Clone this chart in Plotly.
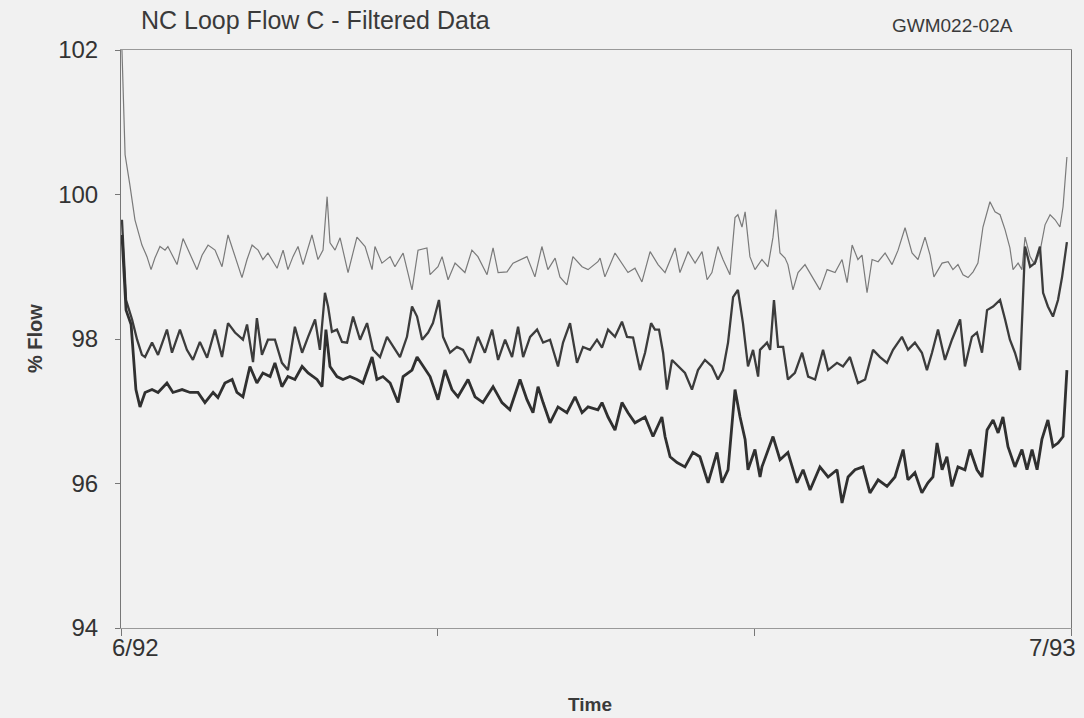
import plotly.graph_objects as go

# ---- data (days since 6/92, % flow) ----
top_days = [0.4, 1.7, 3.7, 5.8, 8.7, 10.8, 12.5, 14.1, 16.2, 18.3, 19.5, 23.3, 25.8, 27.9, 31.6, 33.7, 36.2, 39.1, 42, 44.5,
            47.4, 50.3, 52.4, 54.5, 57, 59, 61.1, 64.9, 67.4, 69.4, 71.5, 73.6, 75.7, 79.4, 81.9, 84, 85.7, 86.9, 89, 91.1,
            94.4, 98.1, 101.5, 104.4, 105.6, 108.5, 111.9, 113.9, 117.3, 121, 123.5, 127.2, 128.5, 131.8, 133.5, 136, 138.9, 141, 143, 145.9,
            148.4, 152.2, 154.7, 156.8, 160.5, 163, 165.9, 168.8, 172.1, 175, 177.5, 180.5, 182.5, 185.4, 187.9, 191.7, 194.2, 198.3, 199.2, 201.2,
            205.4, 208.3, 210.8, 213.7, 216.6, 220, 223.3, 226.2, 230.4, 232.4, 235.8, 238.7, 241.6, 243.7, 245.7, 248.2, 250.3, 253.2, 255.3, 256.5,
            258.2, 259.5, 261.5, 263.6, 266.5, 269, 271.1, 272.3, 274, 276.1, 277.3, 279.4, 281.5, 284.4, 287.3, 290.6, 293.6, 296.9, 299.8, 301.9,
            304, 306.4, 308.1, 310.2, 312.3, 314.8, 317.7, 320.6, 323.1, 326, 328.9, 331.4, 334.3, 336.4, 338, 341.4, 343.9, 345.9, 348, 350.1,
            352.2, 354.3, 356.3, 358.4, 361.3, 363.4, 365.5, 367.6, 369.6, 370.9, 373, 374.6, 375.9, 378, 380, 382.1, 384.2, 386.3, 388.4, 390.4,
            391.7, 393.3]
top_flow = [102.0, 100.55, 100.13, 99.65, 99.3, 99.14, 98.96, 99.12, 99.28, 99.23, 99.28, 99.03, 99.39, 99.23, 98.96, 99.16, 99.3, 99.23, 99.0, 99.44,
            99.14, 98.85, 99.1, 99.3, 99.23, 99.1, 99.19, 98.98, 99.23, 98.96, 99.14, 99.28, 99.03, 99.44, 99.1, 99.23, 99.97, 99.33, 99.23, 99.4,
            98.92, 99.41, 99.28, 98.96, 99.28, 99.05, 99.14, 99.0, 99.19, 98.68, 99.23, 99.26, 98.89, 99.0, 99.14, 98.82, 99.05, 98.98, 98.92, 99.23,
            99.14, 98.89, 99.26, 98.92, 98.93, 99.05, 99.1, 99.14, 98.86, 99.28, 98.96, 99.12, 98.86, 98.75, 99.14, 99.0, 98.96, 99.07, 99.12, 98.86,
            99.19, 99.05, 98.92, 98.98, 98.79, 99.21, 99.03, 98.92, 99.26, 98.92, 99.21, 99.05, 99.21, 98.82, 98.92, 99.28, 99.1, 98.89, 99.68, 99.72,
            99.55, 99.76, 99.14, 98.96, 99.1, 99.0, 99.41, 99.79, 99.19, 99.12, 99.03, 98.68, 98.92, 99.03, 98.86, 98.68, 98.96, 98.92, 99.1, 98.78,
            99.3, 99.1, 99.16, 98.64, 99.1, 99.07, 99.19, 99.03, 99.23, 99.54, 99.19, 99.1, 99.41, 99.16, 98.86, 99.05, 99.07, 98.96, 99.03, 98.89,
            98.85, 98.93, 99.05, 99.55, 99.9, 99.76, 99.72, 99.51, 99.26, 98.96, 99.05, 98.96, 99.41, 99.14, 99.03, 99.21, 99.58, 99.72, 99.65, 99.55,
            99.83, 100.52]

mid_days = [0.4, 2.1, 4.6, 6.7, 8.7, 10, 12.9, 15.4, 19.1, 21.2, 24.5, 27.4, 29.9, 32.8, 35.8, 39.1, 42, 44.5, 47.4, 50.7,
            52.4, 53.6, 54.9, 56.5, 58.6, 61.1, 64, 66.9, 69.4, 72.3, 75.3, 77.8, 80.7, 82.7, 84.8, 86.1, 87.7, 89.8, 91.9, 94,
            96.5, 99.4, 102.3, 104.8, 107.7, 110.6, 113.9, 116, 118.9, 121, 123.1, 125.2, 127.7, 129.7, 132.2, 133.9, 136.8, 139.7, 142.2, 145.1,
            148.4, 151.3, 154.3, 156.8, 159.7, 162.6, 165.1, 167.2, 170.1, 173, 175.5, 178.4, 181.7, 183.8, 186.7, 189.6, 192.1, 195, 197.9, 200,
            202.5, 205.4, 208.3, 210.4, 212.9, 215.8, 217.9, 220.4, 222, 223.7, 225.4, 227, 229.1, 231.6, 234.5, 237.4, 239.9, 242.8, 245.7, 248.2,
            250.3, 252.4, 254.5, 256.5, 258.6, 260.7, 262.8, 264.9, 265.7, 268.6, 269.9, 271.5, 273.2, 275.3, 277.3, 280.2, 283.2, 285.7, 288.6, 291.9,
            294, 297.7, 300.2, 303.1, 306.4, 309.4, 312.7, 315.6, 318.5, 321, 324.7, 327.2, 330.1, 333, 335.1, 337.2, 339.7, 342.6, 345.5, 348.9,
            350.9, 353.8, 355.9, 358, 360.1, 362.6, 365.5, 367.6, 369.6, 371.7, 373.8, 375, 375.9, 378, 380, 382.1, 383.4, 385.4, 387.5, 389.6,
            391.3, 393.3]
mid_flow = [99.65, 98.54, 98.27, 97.99, 97.78, 97.75, 97.95, 97.78, 98.13, 97.81, 98.13, 97.85, 97.71, 97.96, 97.74, 98.13, 97.75, 98.22, 98.09, 97.99,
            98.2, 97.92, 97.68, 98.29, 97.78, 97.99, 97.99, 97.67, 97.57, 98.17, 97.81, 98.03, 98.27, 97.85, 98.64, 98.45, 98.1, 98.13, 97.96, 97.95,
            98.31, 97.99, 98.22, 97.85, 97.75, 98.03, 97.85, 97.75, 98.03, 98.45, 98.31, 97.99, 98.09, 98.22, 98.54, 98.03, 97.81, 97.89, 97.85, 97.67,
            98.03, 97.81, 98.13, 97.71, 97.99, 97.75, 98.17, 97.75, 98.03, 98.13, 97.95, 97.99, 97.62, 97.95, 98.22, 97.67, 97.89, 97.85, 97.99, 97.88,
            98.13, 98.03, 98.24, 98.03, 98.02, 97.57, 97.81, 98.22, 98.13, 98.13, 97.81, 97.3, 97.71, 97.62, 97.53, 97.3, 97.57, 97.71, 97.62, 97.44,
            97.57, 97.95, 98.58, 98.68, 98.22, 97.62, 97.85, 97.48, 97.85, 97.95, 97.85, 98.54, 97.89, 97.89, 97.44, 97.53, 97.81, 97.48, 97.44, 97.85,
            97.57, 97.67, 97.62, 97.75, 97.39, 97.44, 97.85, 97.75, 97.67, 97.85, 98.03, 97.85, 97.95, 97.81, 97.57, 97.81, 98.13, 97.71, 97.99, 98.27,
            97.62, 98.03, 98.09, 97.81, 98.4, 98.45, 98.54, 98.27, 97.99, 97.81, 97.57, 98.54, 99.28, 99.0, 99.05, 99.28, 98.64, 98.45, 98.31, 98.54,
            98.86, 99.34]

low_days = [0.4, 2.1, 4.2, 6.2, 7.9, 10, 12.9, 15.4, 19.1, 21.6, 25.4, 28.7, 32, 34.9, 38.3, 40.3, 43.2, 46.2, 48.2, 50.7,
            53.6, 56.5, 59, 62, 64, 66.9, 69.4, 72.3, 75.3, 77.8, 81.5, 83.6, 85.2, 86.9, 89.8, 92.3, 95.2, 98.1, 100.6, 104.4,
            106.4, 108.9, 111.9, 115.2, 117.3, 121, 123.1, 125.6, 128.5, 131.8, 134.7, 137.6, 140.1, 144.3, 147.2, 150.5, 154.7, 158.4, 161.7, 165.9,
            168.8, 171.3, 173.4, 175.5, 178.4, 181.7, 185.4, 188.8, 191.7, 194.2, 198.3, 200, 202.5, 205.4, 208.3, 210.8, 213.7, 217.9, 221.2, 224.9,
            226.2, 228.3, 231.2, 234.5, 237.8, 240.7, 244.1, 247.8, 249.9, 252.4, 255.3, 257.4, 259.5, 260.7, 263.6, 265.7, 266.5, 271.1, 274, 277.3,
            281.1, 283.6, 286.5, 290.6, 294, 297.7, 299.8, 302.3, 305.2, 308.5, 311.4, 314.8, 318.5, 321.8, 325.2, 327.2, 330.1, 333, 335.5, 337.6,
            339.3, 341.4, 343.4, 345.5, 348, 350.9, 353, 355.9, 358, 360.1, 362.6, 364.7, 366.7, 368.8, 371.7, 374.6, 376.7, 378.8, 380.9, 382.9,
            385.4, 387.5, 389.6, 391.7, 393.3]
low_flow = [99.44, 98.4, 98.2, 97.3, 97.06, 97.26, 97.3, 97.26, 97.39, 97.26, 97.3, 97.26, 97.26, 97.12, 97.26, 97.19, 97.39, 97.44, 97.26, 97.2,
            97.62, 97.39, 97.53, 97.48, 97.67, 97.34, 97.48, 97.44, 97.62, 97.53, 97.44, 97.34, 98.13, 97.62, 97.48, 97.44, 97.48, 97.44, 97.39, 97.75,
            97.44, 97.48, 97.39, 97.12, 97.48, 97.57, 97.75, 97.62, 97.48, 97.16, 97.57, 97.3, 97.2, 97.44, 97.2, 97.12, 97.34, 97.12, 97.02, 97.44,
            97.16, 96.98, 97.34, 97.12, 96.84, 97.06, 96.98, 97.2, 96.98, 97.06, 97.02, 97.12, 96.92, 96.74, 97.12, 96.98, 96.84, 96.92, 96.65, 96.92,
            96.65, 96.37, 96.29, 96.23, 96.43, 96.37, 96.01, 96.43, 96.01, 96.19, 97.3, 96.92, 96.61, 96.19, 96.47, 96.09, 96.23, 96.65, 96.33, 96.43,
            96.01, 96.19, 95.91, 96.23, 96.09, 96.19, 95.73, 96.09, 96.19, 96.23, 95.87, 96.05, 95.96, 96.09, 96.47, 96.05, 96.15, 95.87, 96.01, 96.09,
            96.56, 96.19, 96.37, 95.96, 96.23, 96.19, 96.47, 96.19, 96.09, 96.74, 96.88, 96.7, 96.92, 96.51, 96.23, 96.47, 96.19, 96.47, 96.19, 96.61,
            96.88, 96.51, 96.56, 96.65, 97.57]

y_ticks = [94, 96, 98, 100, 102]
x_ticks = [0, 131.7, 263.3, 395]
x_labels = ["6/92", "7/93"]

FONT = "Liberation Sans, Arial, sans-serif"
BG = "#f1f1f1"

fig = go.Figure()
fig.add_trace(go.Scatter(x=top_days, y=top_flow, mode="lines",
                         line=dict(color="#7a7a7a", width=1.2), showlegend=False))
fig.add_trace(go.Scatter(x=mid_days, y=mid_flow, mode="lines",
                         line=dict(color="#3c3c3c", width=2.3), showlegend=False))
fig.add_trace(go.Scatter(x=low_days, y=low_flow, mode="lines",
                         line=dict(color="#303030", width=2.8), showlegend=False))

fig.update_layout(
    width=1084, height=718,
    margin=dict(l=121, r=13, t=50, b=90),
    paper_bgcolor=BG, plot_bgcolor=BG,
    font=dict(family=FONT, color="#333333"),
    xaxis=dict(range=[0, 395], tickvals=x_ticks, ticktext=["", "", "", ""],
               ticks="outside", ticklen=7, tickcolor="#777777",
               showline=True, linecolor="#999999", linewidth=1, mirror=True,
               showgrid=False, zeroline=False),
    yaxis=dict(range=[94, 102], tickvals=y_ticks, ticktext=[str(v) for v in y_ticks],
               ticks="outside", ticklen=5, tickcolor="#777777",
               tickfont=dict(size=24, color="#333333"), ticklabelstandoff=12,
               showline=True, linecolor="#777777", linewidth=1, mirror=True,
               showgrid=False, zeroline=False),
)

ann = [
    dict(text="NC Loop Flow C - Filtered Data", x=0.019, y=1.052, xanchor="left", yanchor="middle",
         font=dict(size=25, color="#3a3a3a")),
    dict(text="GWM022-02A", x=0.8095, y=1.043, xanchor="left", yanchor="middle",
         font=dict(size=19, color="#3a3a3a")),
    dict(text="<b>% Flow</b>", x=-0.0905, y=0.5, xanchor="center", yanchor="middle", textangle=-90,
         font=dict(size=20, color="#3a3a3a")),
    dict(text="<b>Time</b>", x=0.4937, y=-0.133, xanchor="center", yanchor="middle",
         font=dict(size=19, color="#3a3a3a")),
    dict(text=x_labels[0], x=-0.0116, y=-0.0346, xanchor="left", yanchor="middle",
         font=dict(size=24, color="#333333")),
    dict(text=x_labels[1], x=1.0074, y=-0.0346, xanchor="right", yanchor="middle",
         font=dict(size=24, color="#333333")),
]
for a in ann:
    fig.add_annotation(xref="paper", yref="paper", showarrow=False, **a)

fig.write_html("out.html")
